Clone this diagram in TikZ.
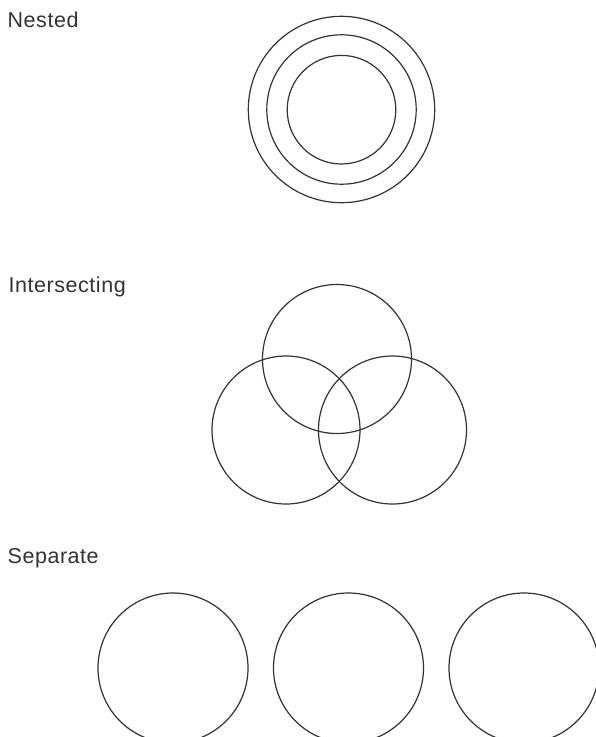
\documentclass[tikz,border=0pt]{standalone}
\usepackage{fontspec}
\setmainfont[LetterSpace=2.5]{Liberation Sans}
\definecolor{ink}{HTML}{333333}
\begin{document}
\begin{tikzpicture}[x=1pt,y=-1pt,
  ring/.style={circle, draw=ink, line width=1.2pt, inner sep=0pt, minimum size=#1},
  heading/.style={anchor=base west, inner sep=0pt, text=ink, font=\fontsize{21.5pt}{24pt}\selectfont}]
\useasboundingbox (0,0) rectangle (596,737);
\clip (0,0) rectangle (596,737);
% headings
\node[heading] (tNested) at (7.5,27.3) {Nested};
\node[heading] (tInter) at (8.5,292.3) {Intersecting};
\node[heading] (tSep) at (7.5,563.3) {Separate};
% nested
\node[ring=186.4pt] (nOuter) at (341.5,109.5) {};
\node[ring=149.4pt] (nMid) at (341.5,109.5) {};
\node[ring=108.6pt] (nInner) at (341.5,109.7) {};
% intersecting
\node[ring=149pt] (iTop) at (337,359) {};
\node[ring=148pt] (iLeft) at (286,430) {};
\node[ring=148pt] (iRight) at (392.5,430) {};
% separate
\node[ring=150pt] (s1) at (173,668) {};
\node[ring=150pt] (s2) at (348.5,668) {};
\node[ring=150pt] (s3) at (524,668) {};
\end{tikzpicture}
\end{document}
